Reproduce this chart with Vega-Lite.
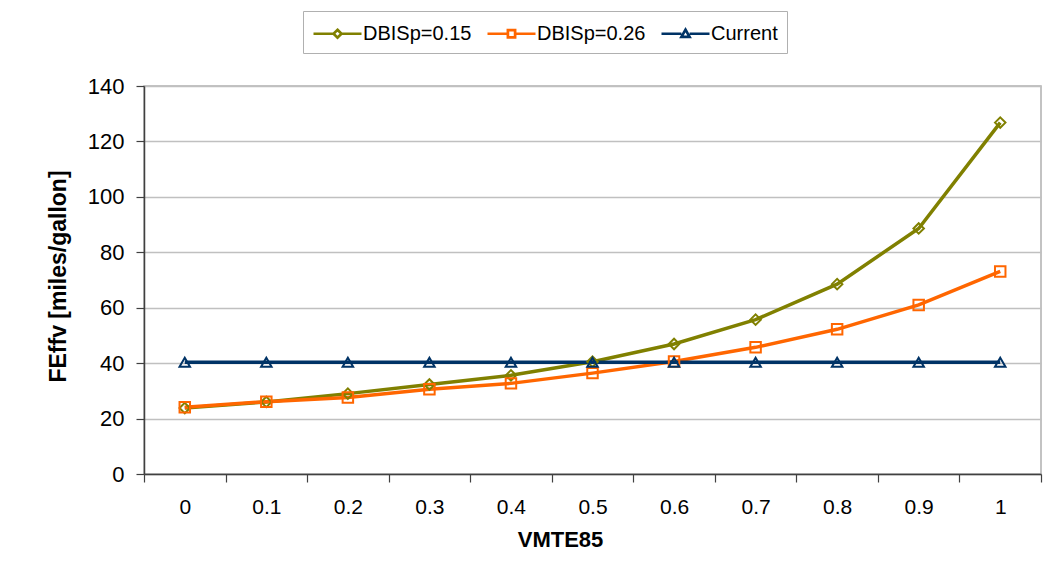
{
  "$schema": "https://vega.github.io/schema/vega-lite/v6.json",
  "width": 897,
  "height": 388,
  "autosize": "none",
  "padding": {"left": 144, "top": 86, "right": 8, "bottom": 88},
  "background": "white",
  "config": {
    "font": "Liberation Sans",
    "view": {"stroke": "#b0b0b0", "strokeWidth": 1.5},
    "axis": {"labelFont": "Liberation Sans", "titleFont": "Liberation Sans", "labelColor": "black", "titleColor": "black"}
  },
  "data": {"values": [
    {"x": "0", "series": "DBISp=0.15", "y": 23.8},
    {"x": "0.1", "series": "DBISp=0.15", "y": 26.0},
    {"x": "0.2", "series": "DBISp=0.15", "y": 29.0},
    {"x": "0.3", "series": "DBISp=0.15", "y": 32.3},
    {"x": "0.4", "series": "DBISp=0.15", "y": 35.6},
    {"x": "0.5", "series": "DBISp=0.15", "y": 40.5},
    {"x": "0.6", "series": "DBISp=0.15", "y": 46.9},
    {"x": "0.7", "series": "DBISp=0.15", "y": 55.7},
    {"x": "0.8", "series": "DBISp=0.15", "y": 68.5},
    {"x": "0.9", "series": "DBISp=0.15", "y": 88.6},
    {"x": "1", "series": "DBISp=0.15", "y": 126.8},
    {"x": "0", "series": "DBISp=0.26", "y": 24.1},
    {"x": "0.1", "series": "DBISp=0.26", "y": 26.1},
    {"x": "0.2", "series": "DBISp=0.26", "y": 27.6},
    {"x": "0.3", "series": "DBISp=0.26", "y": 30.6},
    {"x": "0.4", "series": "DBISp=0.26", "y": 32.7},
    {"x": "0.5", "series": "DBISp=0.26", "y": 36.4},
    {"x": "0.6", "series": "DBISp=0.26", "y": 40.6},
    {"x": "0.7", "series": "DBISp=0.26", "y": 45.7},
    {"x": "0.8", "series": "DBISp=0.26", "y": 52.2},
    {"x": "0.9", "series": "DBISp=0.26", "y": 61.0},
    {"x": "1", "series": "DBISp=0.26", "y": 73.1},
    {"x": "0", "series": "Current", "y": 40.3},
    {"x": "0.1", "series": "Current", "y": 40.3},
    {"x": "0.2", "series": "Current", "y": 40.3},
    {"x": "0.3", "series": "Current", "y": 40.3},
    {"x": "0.4", "series": "Current", "y": 40.3},
    {"x": "0.5", "series": "Current", "y": 40.3},
    {"x": "0.6", "series": "Current", "y": 40.3},
    {"x": "0.7", "series": "Current", "y": 40.3},
    {"x": "0.8", "series": "Current", "y": 40.3},
    {"x": "0.9", "series": "Current", "y": 40.3},
    {"x": "1", "series": "Current", "y": 40.3}
  ]},
  "encoding": {
    "x": {
      "field": "x", "type": "ordinal",
      "sort": ["0","0.1","0.2","0.3","0.4","0.5","0.6","0.7","0.8","0.9","1"],
      "scale": {"type": "band", "paddingInner": 0, "paddingOuter": 0},
      "axis": {
        "title": "VMTE85", "titleFontSize": 22, "titleFontWeight": "bold", "titlePadding": 12,
        "titleX": 416, "titleAlign": "center",
        "labelFontSize": 21, "labelAngle": 0, "labelPadding": 14,
        "tickBand": "extent", "ticks": true, "tickSize": 8, "tickColor": "#404040", "tickWidth": 1.2,
        "domainColor": "#404040", "domainWidth": 1.5, "grid": false
      }
    },
    "y": {
      "field": "y", "type": "quantitative",
      "scale": {"domain": [0, 140], "nice": false},
      "axis": {
        "title": "FEffv [miles/gallon]", "titleFontSize": 23, "titleFontWeight": "bold", "titlePadding": 17,
        "titleY": 190,
        "values": [0,20,40,60,80,100,120,140],
        "labelFontSize": 22, "labelPadding": 12,
        "tickSize": 8, "tickColor": "#404040", "tickWidth": 1.2,
        "domainColor": "#404040", "domainWidth": 1.5,
        "grid": true, "gridColor": "#c0c0c0", "gridWidth": 1.5
      }
    },
    "color": {
      "field": "series", "type": "nominal",
      "scale": {"domain": ["DBISp=0.15", "DBISp=0.26", "Current"], "range": ["#808000", "#FF6600", "#003366"]}
    }
  },
  "layer": [
    {
      "mark": {"type": "line", "strokeWidth": 3.5},
      "encoding": {
        "color": {
          "field": "series", "type": "nominal",
          "legend": {
            "title": null, "orient": "none", "direction": "horizontal",
            "legendX": 159, "legendY": -75,
            "labelFontSize": 20, "labelFont": "Liberation Sans", "labelColor": "black",
            "labelOffset": 12, "symbolOffset": 12, "columnPadding": 10,
            "padding": 9, "strokeColor": "#b0b0b0", "fillColor": "white",
            "symbolSize": 576,
            "encode": {"symbols": {"update": {
              "shape": {"signal": "datum.value === 'DBISp=0.15' ? 'M-2,0H-0.33M0.33,0H2M0,-0.33L0.33,0L0,0.33L-0.33,0Z' : datum.value === 'DBISp=0.26' ? 'M-2,0H-0.3M0.3,0H2M-0.3,-0.3H0.3V0.3H-0.3Z' : 'M-2,0H-0.34M0.34,0H2M0,-0.34L0.34,0.26H-0.34Z'"},
              "strokeWidth": {"value": 2.7},
              "fill": {"value": "transparent"}
            }}}
          }
        }
      }
    },
    {
      "transform": [{"filter": "datum.series === 'DBISp=0.15'"}],
      "mark": {"type": "point", "filled": false, "size": 110, "strokeWidth": 2, "opacity": 1, "shape": "diamond"},
      "encoding": {"color": {"field": "series", "type": "nominal", "legend": null}}
    },
    {
      "transform": [{"filter": "datum.series === 'DBISp=0.26'"}],
      "mark": {"type": "point", "filled": false, "size": 110, "strokeWidth": 2, "opacity": 1, "shape": "square"},
      "encoding": {"color": {"field": "series", "type": "nominal", "legend": null}}
    },
    {
      "transform": [{"filter": "datum.series === 'Current'"}],
      "mark": {"type": "point", "filled": false, "size": 110, "strokeWidth": 2, "opacity": 1, "shape": "triangle-up"},
      "encoding": {"color": {"field": "series", "type": "nominal", "legend": null}}
    }
  ]
}
